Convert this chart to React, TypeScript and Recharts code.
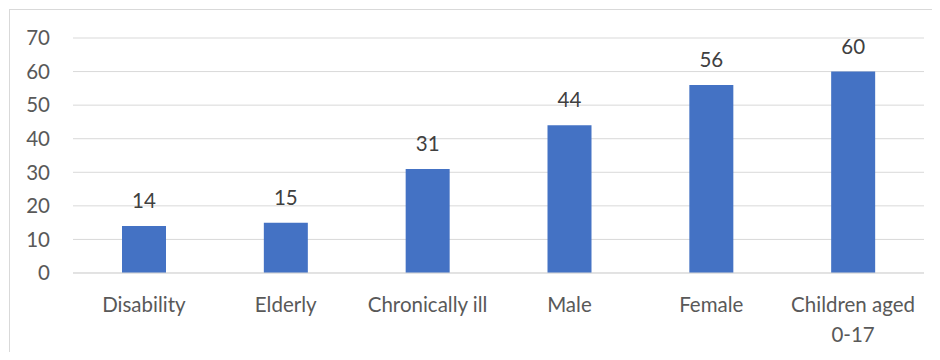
import React from 'react';
import { BarChart, Bar, XAxis, YAxis, CartesianGrid, LabelList } from 'recharts';

const categories = ['Disability', 'Elderly', 'Chronically ill', 'Male', 'Female', 'Children aged 0-17'];
const values = [14, 15, 31, 44, 56, 60];
const yTicks = [0, 10, 20, 30, 40, 50, 60, 70];

const data = categories.map((name, i) => ({ name, value: values[i] }));

const FONT = 'Lato, "Open Sans", sans-serif';

// split long category names into lines, Excel style
const wrap = (label: string, max = 15): string[] => {
  const lines: string[] = [];
  let cur = '';
  label.split(' ').forEach((w) => {
    const next = cur ? cur + ' ' + w : w;
    if (next.length > max && cur) {
      lines.push(cur);
      cur = w;
    } else {
      cur = next;
    }
  });
  if (cur) lines.push(cur);
  return lines;
};

const CategoryTick = (props: any) => {
  const { x, y, payload } = props;
  const lines = wrap(String(payload.value));
  return (
    <text x={x} y={y} textAnchor="middle" fill="#595959" fontSize={20.5} fontFamily={FONT}>
      {lines.map((l, i) => (
        <tspan key={i} x={x} dy={i === 0 ? 31 : 30}>
          {l}
        </tspan>
      ))}
    </text>
  );
};

const App: React.FC = () => {
  return (
    <div style={{ position: 'relative', width: 940, height: 360, margin: -8, overflow: 'hidden', background: '#fff' }}>
      <div
        style={{
          position: 'absolute',
          left: 9,
          top: 9,
          width: 1000,
          height: 400,
          border: '1px solid #d9d9d9',
        }}
      />
      <div style={{ position: 'absolute', left: 0, top: 0 }}>
        <BarChart
          width={940}
          height={360}
          data={data}
          margin={{ top: 38, right: 16, left: 0, bottom: 0 }}
        >
          <CartesianGrid vertical={false} stroke="#d9d9d9" strokeWidth={1} />
          <XAxis
            dataKey="name"
            height={87}
            axisLine={{ stroke: '#d9d9d9' }}
            tickLine={false}
            interval={0}
            tick={<CategoryTick />}
          />
          <YAxis
            width={73}
            domain={[0, 70]}
            ticks={yTicks}
            axisLine={false}
            tickLine={false}
            tickMargin={17}
            tick={{ fill: '#595959', fontSize: 20.5, fontFamily: FONT }}
          />
          <Bar dataKey="value" fill="#4472C4" barSize={44} isAnimationActive={false}>
            <LabelList
              dataKey="value"
              position="top"
              offset={18}
              fill="#404040"
              fontSize={20.5}
              fontFamily={FONT}
            />
          </Bar>
        </BarChart>
      </div>
    </div>
  );
};

export default App;
